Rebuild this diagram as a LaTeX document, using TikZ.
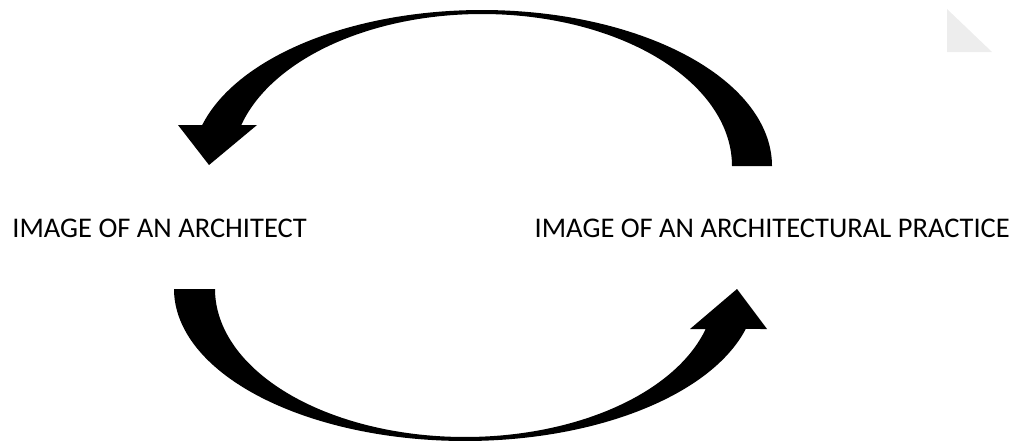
\documentclass[tikz,border=0pt]{standalone}
\usepackage{fontspec}
\setmainfont{Carlito}
\begin{document}
\begin{tikzpicture}[x=1pt,y=-1pt,
  arrowfill/.style={fill=black,draw=none},
  lbl/.style={inner sep=0pt,font=\fontsize{28.5}{34}\selectfont,text=black}]
\useasboundingbox (0,0) rectangle (1016,442);
% faint triangle top right
\fill[black!7] (947,9) -- (947,52) -- (992,52) -- cycle;
% top curved arrow (right to left)
\fill[arrowfill] plot[domain=0:-164.8,samples=80,smooth] ({482+290*cos(\x)},{166+156*sin(\x)})
  -- (178,125) -- (209,165) -- (257,125) -- (241,125)
  -- plot[domain=-164.35:0,samples=80,smooth] ({482+250*cos(\x)},{166+152*sin(\x)}) -- cycle;
% bottom curved arrow (left to right)
\fill[arrowfill] plot[domain=180:15.25,samples=80,smooth] ({465+291*cos(\x)},{289+152*sin(\x)})
  -- (767,329) -- (737,289) -- (690,329) -- (706,329)
  -- plot[domain=15.68:180,samples=80,smooth] ({465+250*cos(\x)},{289+148*sin(\x)}) -- cycle;
\node[lbl,anchor=base east] (a) at (307,237) {IMAGE OF AN ARCHITECT};
\node[lbl,anchor=base east] (b) at (1010,237) {IMAGE OF AN ARCHITECTURAL PRACTICE};
\end{tikzpicture}
\end{document}
